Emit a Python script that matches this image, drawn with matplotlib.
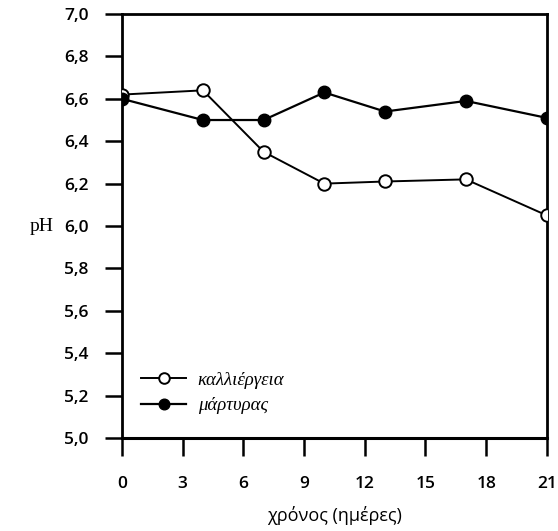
import matplotlib
matplotlib.use("Agg")
import matplotlib.pyplot as plt

days = [0, 4, 7, 10, 13, 17, 21]
culture_ph = [6.62, 6.64, 6.35, 6.20, 6.21, 6.22, 6.05]
control_ph = [6.60, 6.50, 6.50, 6.63, 6.54, 6.59, 6.51]
series_names = ["καλλιέργεια", "μάρτυρας"]
x_ticks = [0, 3, 6, 9, 12, 15, 18, 21]
y_ticks = [5.0, 5.2, 5.4, 5.6, 5.8, 6.0, 6.2, 6.4, 6.6, 6.8, 7.0]

fig = plt.figure(figsize=(5.58, 5.31), dpi=100)
ax = fig.add_axes([0.2186, 0.1751, 0.7614, 0.7985])

ax.plot(days, culture_ph, color="black", lw=1.4, marker="o", ms=9,
        mfc="white", mec="black", mew=1.4, label=series_names[0], zorder=3)
ax.plot(days, control_ph, color="black", lw=1.6, marker="o", ms=9,
        mfc="black", mec="black", label=series_names[1], zorder=3)

ax.set_xlim(0, 21)
ax.set_ylim(5.0, 7.0)
ax.set_xticks(x_ticks)
ax.set_yticks(y_ticks)
ax.set_yticklabels([f"{v:.1f}".replace(".", ",") for v in y_ticks])
ax.set_xticklabels([str(v) for v in x_ticks])

for lbl in ax.get_xticklabels() + ax.get_yticklabels():
    lbl.set_fontfamily("Open Sans")
    lbl.set_fontsize(12.5)
    lbl.set_fontweight("semibold")

ax.tick_params(axis="y", direction="out", length=12, width=1.8,
               colors="black", pad=12)
ax.tick_params(axis="x", direction="out", length=13, width=1.8,
               colors="black", pad=14)
for side in ["left", "right", "top", "bottom"]:
    ax.spines[side].set_linewidth(2.0)
ax.spines["bottom"].set_linewidth(2.2)

ax.set_ylabel("pH", family="Liberation Serif", fontsize=14, rotation=0,
              va="center", ha="center")
ax.yaxis.set_label_coords(-0.19, 0.5)
ax.set_xlabel("χρόνος (ημέρες)", family="Open Sans", fontsize=13, va="center")
ax.xaxis.set_label_coords(0.5, -0.182)

leg = ax.legend(loc="lower left", bbox_to_anchor=(0.015, 0.025), frameon=False,
                prop={"family": "Liberation Serif", "style": "italic", "size": 13.5},
                handlelength=2.4, handletextpad=0.6, labelspacing=0.45,
                markerscale=0.85, borderpad=0.2)

fig.savefig("out.png", dpi=100)
